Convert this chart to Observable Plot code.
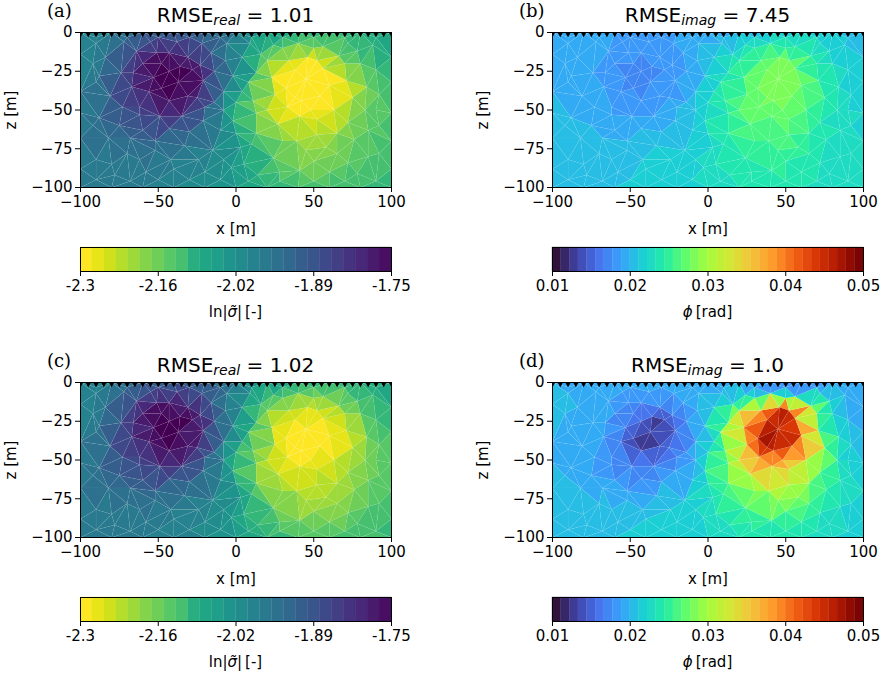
<!DOCTYPE html>
<html>
<head>
<meta charset="utf-8">
<script src="https://cdn.jsdelivr.net/npm/d3@7"></script>
<script src="https://cdn.jsdelivr.net/npm/@observablehq/plot@0.6"></script>
<style>
html,body{margin:0;padding:0;background:#fff;}
#page{position:relative;width:880px;height:673px;overflow:hidden;font-family:"DejaVu Sans",sans-serif;color:#000;}
.pos{position:absolute;}
.pos svg{display:block;overflow:visible;max-width:none;}
.ttl{position:absolute;width:311px;text-align:center;font-size:20px;line-height:22px;white-space:nowrap;}
.ttl sub{font-size:14px;font-style:italic;line-height:0;vertical-align:-3px;}
.tag{position:absolute;font-family:"DejaVu Serif",serif;font-size:18px;line-height:22px;}
.cbl{position:absolute;width:311px;text-align:center;font-size:15px;line-height:18px;white-space:nowrap;}
</style>
</head>
<body>
<div id="page"></div>
<script>
// Mesh nodes (metres)
const nodeX = [
 -100,-80,-60,-40,-20,0,20,40,60,80,100,
 -90,-72,-55,-38,-22,-6,9,24,40,56,72,88,
 -100,-84,-64,-51,-43,-31,-16,-7,4,16,34,46,66,80,100,
 -88,-74,-60,-53,-43,-23,-14,-2,13,23,56,71,100,
 -100,-81,-67,-56,-37,-31,-21,-8,4,11,32,45,54,84,92,
 -100,-88,-73,-49,-43,-35,-20,-8,13,33,42,41,63,83,100,
 -100,-82,-75,-60,-43,-21,-10,-2,0,13,27,39,65,76,85,100,
 -90,-70,-52,-33,-15,3,24,45,58,65,85,
 -100,-78,-58,-40,-20,-3,14,41,60,78,100,
 -100,-80,-60,-40,-20,0,20,40,60,80,100,
 // second pass: the finer cells
 -90,-70,-50,-30,-10,10,30,50,70,90,
 -92,-66,-48,-36,-48,-28,-62,-25,-14,-62,-90,-92,-68,-52,-30,
 -80,-62,-42,-24,-8,-90,-68,-50,-30,-10,8,28,50,70,90,
 5,28,50,72,92,10,30,52,72,92,20,52,25,20,8,0,30,50,60,38,52,38,48,75,78,90,90,70];
const nodeZ = [
 0,0,0,0,0,0,0,0,0,0,0,
 -7,-6,-6,-6,-7,-7,-7,-8,-7,-9,-7,-8,
 -14,-16,-12,-13,-13,-16,-13,-18,-16,-14,-18,-16,-15,-20,-16,
 -28,-26,-20,-29,-25,-21,-25,-28,-26,-29,-23,-31,-32,
 -38,-41,-35,-38,-32,-41,-31,-38,-38,-44,-36,-30,-41,-35,-40,
 -52,-55,-48,-54,-44,-54,-48,-50,-52,-48,-44,-54,-50,-50,-52,
 -68,-68,-60,-63,-62,-57,-63,-57,-65,-65,-59,-70,-65,-69,-63,-70,
 -82,-78,-76,-73,-76,-74,-81,-76,-74,-78,-80,
 -88,-92,-90,-88,-90,-87,-92,-89,-90,-91,-88,
 -100,-100,-100,-100,-100,-100,-100,-100,-100,-100,-100,
 -3,-3,-3,-3,-3,-3,-3,-3,-3,-3,
 -20,-26,-20,-22,-36,-24,-48,-42,-45,-53,-32,-60,-68,-70,-64,
 -85,-82,-82,-82,-82,-95,-96,-95,-95,-95,-96,-96,-96,-96,-96,
 -85,-90,-83,-84,-78,-72,-70,-66,-58,-60,-50,-56,-40,-18,-32,-45,-10,-10,-34,-24,-18,-42,-50,-42,-12,-24,-50,-20];

// Panel values at those nodes
const realA = [
 -2.01,-1.97,-1.92,-1.90,-1.93,-1.97,-2.05,-2.10,-2.11,-2.09,-2.07,
 -1.99,-1.94,-1.88,-1.87,-1.91,-1.97,-2.05,-2.11,-2.14,-2.15,-2.12,-2.10,
 -2.0,-1.97,-1.86,-1.79,-1.78,-1.82,-1.91,-1.97,-2.02,-2.14,-2.26,-2.26,-2.17,-2.14,-2.08,
 -1.97,-1.85,-1.78,-1.76,-1.75,-1.80,-1.88,-1.97,-2.13,-2.27,-2.28,-2.27,-2.12,
 -1.97,-1.92,-1.84,-1.78,-1.75,-1.77,-1.82,-1.98,-2.10,-2.17,-2.29,-2.30,-2.29,-2.18,-2.14,
 -1.98,-1.94,-1.88,-1.83,-1.78,-1.84,-1.91,-2.03,-2.17,-2.28,-2.30,-2.27,-2.27,-2.17,-2.14,
 -1.96,-1.95,-1.92,-1.90,-1.89,-1.93,-1.98,-2.07,-2.06,-2.16,-2.25,-2.20,-2.20,-2.17,-2.16,-2.13,
 -1.97,-1.96,-1.95,-1.96,-1.99,-2.04,-2.13,-2.20,-2.20,-2.17,-2.14,
 -1.97,-1.97,-1.97,-1.98,-2.01,-2.04,-2.10,-2.17,-2.17,-2.14,-2.12,
 -1.97,-1.97,-1.98,-1.99,-2.02,-2.05,-2.09,-2.12,-2.12,-2.12,-2.12,
 -2.0,-1.95,-1.90,-1.89,-1.93,-2.01,-2.08,-2.12,-2.12,-2.09,
 -1.98,-1.84,-1.76,-1.76,-1.75,-1.77,-1.86,-1.80,-1.93,-1.88,-1.96,-1.96,-1.93,-1.92,-1.92,
 -1.97,-1.96,-1.97,-1.99,-2.02,-1.97,-1.97,-1.98,-2.0,-2.03,-2.07,-2.12,-2.14,-2.13,-2.12,
 -2.07,-2.14,-2.19,-2.15,-2.13,-2.1,-2.19,-2.22,-2.2,-2.14,-2.22,-2.26,-2.25,-2.18,-2.08,-2.09,-2.16,-2.2,-2.3,-2.3,-2.29,-2.3,-2.29,-2.22,-2.12,-2.12,-2.16,-2.17];
const imagB = [
 .0195,.0195,.019,.019,.019,.0195,.020,.0215,.0215,.021,.0205,
 .0195,.0190,.0185,.0185,.019,.0195,.0205,.0225,.0235,.0235,.022,.0215,
 .020,.0195,.019,.0185,.018,.0185,.019,.0195,.021,.0225,.0265,.0275,.025,.0225,.0205,
 .0195,.019,.018,.0175,.0175,.018,.0185,.0205,.024,.0265,.0275,.025,.0215,
 .020,.0195,.0185,.018,.0175,.018,.0185,.0205,.0235,.025,.0275,.0295,.028,.023,.022,
 .0205,.020,.0195,.0185,.018,.019,.0195,.021,.024,.0275,.028,.027,.026,.0225,.022,
 .0205,.0205,.020,.0195,.0195,.020,.0205,.0225,.0225,.025,.027,.0255,.0245,.023,.0225,.022,
 .0205,.0205,.0205,.021,.0215,.0225,.024,.0255,.0255,.024,.0225,
 .0205,.0205,.021,.0215,.022,.0225,.0235,.0245,.024,.023,.0225,
 .021,.021,.021,.0215,.022,.0225,.023,.0235,.0235,.0225,.022,
 .0195,.019,.0185,.0185,.019,.020,.0215,.0225,.0225,.021,
 .0195,.0185,.0175,.0175,.0175,.018,.019,.0185,.0195,.019,.0195,.020,.020,.020,.020,
 .0205,.0205,.021,.0215,.022,.021,.021,.021,.0215,.022,.0225,.0235,.024,.023,.0225,
 .023,.024,.025,.0235,.0225,.0235,.0255,.0265,.0245,.0225,.026,.0265,.027,.0235,.0225,.0225,.024,.0245,.0275,.028,.028,.028,.0275,.025,.0225,.0215,.0225,.024];
const realC = [
 -2.01,-1.97,-1.92,-1.90,-1.93,-1.97,-2.05,-2.10,-2.11,-2.09,-2.07,
 -1.99,-1.93,-1.87,-1.86,-1.90,-1.97,-2.04,-2.11,-2.15,-2.16,-2.13,-2.10,
 -2.0,-1.96,-1.86,-1.80,-1.78,-1.81,-1.91,-1.97,-2.03,-2.15,-2.23,-2.26,-2.2,-2.16,-2.08,
 -1.97,-1.85,-1.78,-1.76,-1.75,-1.81,-1.87,-1.98,-2.13,-2.26,-2.27,-2.26,-2.13,
 -1.97,-1.92,-1.84,-1.78,-1.75,-1.77,-1.83,-1.98,-2.10,-2.17,-2.29,-2.30,-2.28,-2.19,-2.15,
 -1.98,-1.94,-1.87,-1.83,-1.78,-1.84,-1.90,-2.03,-2.18,-2.28,-2.30,-2.27,-2.27,-2.19,-2.15,
 -1.96,-1.95,-1.92,-1.90,-1.89,-1.93,-1.98,-2.07,-2.07,-2.18,-2.26,-2.23,-2.22,-2.19,-2.18,-2.14,
 -1.97,-1.96,-1.95,-1.96,-1.99,-2.04,-2.16,-2.22,-2.22,-2.2,-2.15,
 -1.97,-1.97,-1.97,-1.98,-2.0,-2.04,-2.11,-2.19,-2.19,-2.15,-2.12,
 -1.97,-1.97,-1.98,-1.99,-2.01,-2.05,-2.10,-2.14,-2.14,-2.13,-2.12,
 -2.0,-1.95,-1.89,-1.88,-1.93,-2.01,-2.08,-2.13,-2.13,-2.09,
 -1.98,-1.84,-1.76,-1.76,-1.75,-1.77,-1.86,-1.80,-1.94,-1.88,-1.96,-1.96,-1.93,-1.92,-1.92,
 -1.97,-1.96,-1.97,-1.99,-2.02,-1.97,-1.97,-1.98,-2.0,-2.03,-2.07,-2.12,-2.15,-2.14,-2.12,
 -2.08,-2.15,-2.2,-2.17,-2.14,-2.11,-2.21,-2.24,-2.22,-2.15,-2.23,-2.26,-2.26,-2.2,-2.08,-2.10,-2.17,-2.2,-2.3,-2.28,-2.26,-2.3,-2.29,-2.23,-2.14,-2.13,-2.17,-2.2];
const imagD = [
 .0195,.0195,.019,.019,.019,.019,.019,.0185,.0185,.019,.0195,
 .020,.0195,.019,.019,.0195,.0195,.0195,.0205,.0185,.0185,.019,.0195,
 .0205,.020,.0195,.018,.0175,.017,.0185,.0205,.021,.024,.039,.044,.031,.022,.0195,
 .0195,.0195,.0185,.0155,.0155,.0155,.0175,.0205,.0295,.038,.041,.027,.0195,
 .0195,.0195,.019,.016,.012,.0135,.0155,.0195,.023,.027,.045,.049,.043,.0225,.021,
 .020,.0195,.019,.0165,.014,.0165,.0175,.020,.029,.040,.043,.037,.032,.0235,.0215,
 .020,.020,.0195,.0185,.0175,.018,.0195,.023,.0235,.027,.033,.031,.0285,.0245,.0235,.0215,
 .0205,.020,.0195,.020,.021,.0225,.026,.029,.0285,.0265,.0225,
 .0205,.0205,.021,.021,.0215,.0225,.024,.0255,.0245,.023,.022,
 .021,.021,.021,.0215,.0215,.022,.023,.0235,.023,.0225,.0215,
 .0195,.0195,.019,.019,.0195,.0195,.0195,.019,.019,.0195,
 .020,.019,.0165,.0145,.013,.013,.0175,.015,.0175,.018,.0195,.020,.0195,.019,.019,
 .0205,.0205,.0205,.021,.022,.021,.021,.021,.0215,.022,.0225,.0235,.0235,.023,.022,
 .023,.0245,.027,.0235,.022,.0245,.0285,.031,.0265,.022,.033,.034,.036,.030,.024,.0225,.024,.027,.042,.043,.046,.047,.040,.030,.022,.0205,.022,.027];

// Axes and colorbars
const xTicks = [-100,-50,0,50,100];
const zTicks = [0,-25,-50,-75,-100];
const electrodeX = [-100,-95,-90,-85,-80,-75,-70,-65,-60,-55,-50,-45,-40,-35,-30,-25,-20,-15,-10,-5,0,5,10,15,20,25,30,35,40,45,50,55,60,65,70,75,80,85,90,95,100];
const realDomain = [-2.3,-1.75];
const imagDomain = [0.01,0.05];
const realTicks = [-2.3,-2.1625,-2.025,-1.8875,-1.75];
const realTickLabels = ["-2.3","-2.16","-2.02","-1.89","-1.75"];
const imagTicks = [0.01,0.02,0.03,0.04,0.05];
const imagTickLabels = ["0.01","0.02","0.03","0.04","0.05"];
const realSteps = 26;
const imagSteps = 36;
const turboAnchors = ["#30123b","#4145ab","#4675ed","#39a2fc","#1bcfd4","#24eca6","#61fc6c","#a4fc3b","#d1e834","#f3c63a","#fe9b2d","#f36315","#d93806","#b11901","#7a0403"];

const panels = [
 {tag:"(a)",quantity:"real",rmse:"1.01",vals:realA,col:0,row:0},
 {tag:"(b)",quantity:"imag",rmse:"7.45",vals:imagB,col:1,row:0},
 {tag:"(c)",quantity:"real",rmse:"1.02",vals:realC,col:0,row:1},
 {tag:"(d)",quantity:"imag",rmse:"1.0",vals:imagD,col:1,row:1}
];

const page = document.getElementById("page");
const fontStyle = {fontFamily:"DejaVu Sans, sans-serif",fontSize:"15px",color:"#000",background:"transparent",maxWidth:"none"};
const delaunay = d3.Delaunay.from(nodeX.map((x,i)=>[x,nodeZ[i]]));
const turboRange = d3.quantize(d3.piecewise(d3.interpolateRgb,turboAnchors),imagSteps);

function colorFor(q){
  return q==="real"
    ? {type:"quantize",domain:realDomain,n:realSteps,scheme:"viridis",reverse:true}
    : {type:"quantize",domain:imagDomain,range:turboRange};
}
function place(node,left,top){
  const d=document.createElement("div");d.className="pos";
  d.style.left=left+"px";d.style.top=top+"px";d.appendChild(node);page.appendChild(d);
}
function html(cls,left,top,content){
  const d=document.createElement("div");d.className=cls;
  d.style.left=left+"px";d.style.top=top+"px";d.innerHTML=content;page.appendChild(d);
}

for(const p of panels){
  const left=p.col?472:0, top=p.row?350:0;
  // triangles: each carries the mean of its three nodes
  const verts=[];
  const t=delaunay.triangles;
  for(let i=0;i<t.length;i+=3){
    const v=(p.vals[t[i]]+p.vals[t[i+1]]+p.vals[t[i+2]])/3;
    for(const k of [t[i],t[i+1],t[i+2],t[i]]) verts.push({tri:i,x:nodeX[k],z:nodeZ[k],v});
  }
  const chart=Plot.plot({
    width:416,height:240,marginLeft:80,marginRight:25,marginTop:32,marginBottom:53,
    style:fontStyle,
    x:{domain:[-100,100]},
    y:{domain:[-100,0]},
    color:colorFor(p.quantity),
    marks:[
      Plot.line(verts,{x:"x",y:"z",z:"tri",fill:"v",stroke:"white",strokeOpacity:0.06,strokeWidth:0.6}),
      Plot.dot(electrodeX,{x:d=>d,y:()=>0,symbol:"triangle",rotate:180,r:3,fill:"black",stroke:"none",clip:true}),
      Plot.frame({stroke:"black",strokeWidth:1}),
      Plot.axisX({ticks:xTicks,tickSize:5,tickPadding:4,label:"x [m]",labelAnchor:"center",labelArrow:"none",labelOffset:46,stroke:"black"}),
      Plot.axisY({ticks:zTicks,tickSize:5,tickPadding:3,label:"z [m]",labelAnchor:"center",labelArrow:"none",labelOffset:75,stroke:"black"})
    ]
  });
  place(chart,left,top);

  // colorbar
  const dom=p.quantity==="real"?realDomain:imagDomain;
  const n=p.quantity==="real"?realSteps:imagSteps;
  const w=(dom[1]-dom[0])/n;
  const levels=d3.range(n).map(i=>dom[0]+i*w);
  const bar=Plot.plot({
    width:416,height:85,marginLeft:80,marginRight:25,marginTop:7,marginBottom:54,
    style:fontStyle,
    x:{domain:dom},
    y:{domain:[0,1],axis:null},
    color:colorFor(p.quantity),
    marks:[
      Plot.rect(levels,{x1:d=>d,x2:d=>d+w,y1:()=>0,y2:()=>1,fill:d=>d+w/2,stroke:d=>d+w/2,strokeWidth:0.3}),
      Plot.frame({stroke:"black",strokeWidth:1}),
      Plot.axisX({
        ticks:p.quantity==="real"?realTicks:imagTicks,
        tickFormat:(d,i)=>(p.quantity==="real"?realTickLabels:imagTickLabels)[i],
        tickSize:5,tickPadding:4,label:null,stroke:"black"
      })
    ]
  });
  place(bar,left,top+240);

  html("ttl",left+80,top+4,`RMSE<sub>${p.quantity}</sub> = ${p.rmse}`);
  html("tag",left+47,top,p.tag);
  html("cbl",left+80,top+303,p.quantity==="real"
    ? `ln|<i>σ̃</i>|&#8201;[-]`
    : `<i>ϕ</i>&#8201;[rad]`);
}
</script>
</body>
</html>
